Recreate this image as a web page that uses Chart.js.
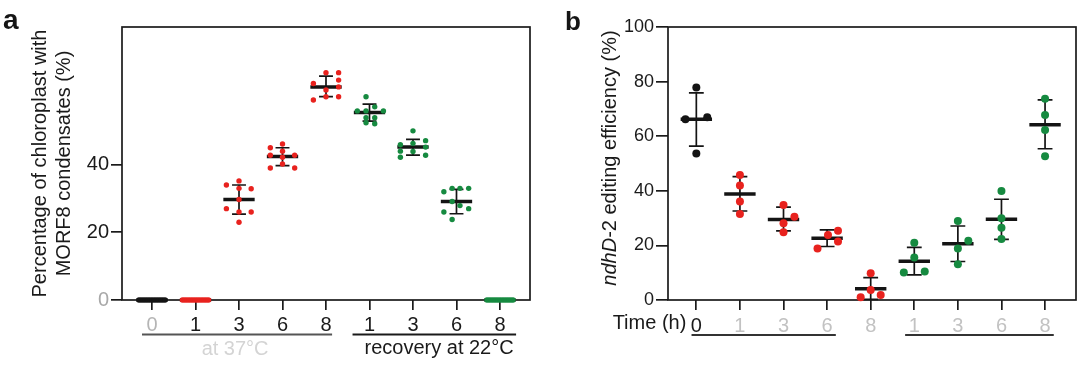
<!DOCTYPE html>
<html>
<head>
<meta charset="utf-8">
<script src="https://cdn.jsdelivr.net/npm/chart.js@4.4.1/dist/chart.umd.min.js"></script>
<style>
  body { margin: 0; background: #fff; width: 1080px; height: 371px; overflow: hidden; position: relative; }
  .panel { position: absolute; top: 0; width: 540px; height: 371px; }
  .tag { position: absolute; font-family: "Liberation Sans", Arial, sans-serif; font-weight: bold; color: #151515; }
</style>
</head>
<body>
<div class="panel" style="left:0"><canvas id="chartA" width="540" height="371"></canvas></div>
<div class="panel" style="left:540px"><canvas id="chartB" width="540" height="371"></canvas></div>
<div class="tag" style="left:3px;top:4px;font-size:28px">a</div>
<div class="tag" style="left:565px;top:6px;font-size:26px">b</div>
<script>
const FONT = '"Liberation Sans", Arial, sans-serif';
const RED = "#e8221e", GREEN = "#168a40", BLACK = "#141414";

// ---- panel a: chloroplasts with MORF8 condensates ----
const catsA = ["0", "1", "3", "6", "8", "1", "3", "6", "8"];
const groupsA = ["ctrl", "heat", "heat", "heat", "heat", "rec", "rec", "rec", "rec"];
const yTicksA = [0, 20, 40];
const meanA = [0, 0, 29.7, 42.4, 63.0, 55.4, 45.2, 29.1, 0];
const upperA = [0, 0, 34.0, 45.0, 66.2, 57.9, 47.5, 32.7, 0];
const lowerA = [0, 0, 25.4, 39.7, 60.1, 52.9, 42.8, 25.5, 0];
const zeros = [0, 0, 0, 0, 0, 0, 0, 0, 0, 0, 0, 0, 0];
const zeroSpread = [-0.3, -0.25, -0.2, -0.15, -0.1, -0.05, 0, 0.05, 0.1, 0.15, 0.2, 0.25, 0.3];
const pointsA = [
  zeros,
  zeros,
  [35.2, 34.0, 33.0, 32.9, 29.7, 27.0, 26.0, 26.0, 23.0],
  [46.1, 45.0, 44.0, 42.8, 42.8, 42.2, 40.2, 39.0, 39.0],
  [67.2, 67.2, 65.0, 64.0, 63.0, 62.1, 59.1, 60.1, 60.1],
  [60.1, 57.1, 55.9, 55.9, 55.9, 53.9, 52.4, 52.1, 53.9],
  [50.0, 47.1, 46.3, 45.9, 45.2, 43.9, 42.2, 42.8, 44.0],
  [33.0, 33.0, 33.0, 32.0, 27.9, 27.0, 26.0, 23.8, 29.1],
  zeros
];
const jitterA = [
  zeroSpread,
  zeroSpread,
  [0, -0.29, 0, 0.28, 0, -0.29, 0.28, 0, 0],
  [0, -0.28, 0, -0.28, 0.28, 0, 0, -0.28, 0.28],
  [0, 0.29, 0.29, -0.29, 0.29, 0, -0.29, 0, 0.29],
  [-0.08, 0.12, -0.28, 0.32, -0.08, 0.12, -0.08, 0.12, -0.08],
  [0, 0.29, 0, -0.29, 0.29, 0, -0.29, 0.29, -0.29],
  [-0.1, 0.08, 0.28, -0.29, 0.08, 0.28, -0.29, -0.1, -0.1],
  zeroSpread
];

// ---- panel b: ndhD-2 editing efficiency ----
const catsB = ["0", "1", "3", "6", "8", "1", "3", "6", "8"];
const groupsB = groupsA;
const yTicksB = [0, 20, 40, 60, 80, 100];
const meanB = [66.2, 38.8, 29.5, 22.6, 4.1, 14.2, 20.6, 29.6, 64.2];
const upperB = [75.9, 45.2, 34.0, 25.7, 8.2, 19.3, 27.1, 36.9, 73.3];
const lowerB = [56.4, 32.6, 25.3, 19.6, 0.2, 9.2, 14.1, 22.2, 55.4];
const pointsB = [
  [77.8, 66.2, 66.9, 53.7],
  [45.8, 41.9, 36.1, 31.5],
  [34.8, 30.5, 28.1, 24.8],
  [25.4, 23.8, 21.4, 18.9],
  [9.8, 3.7, 1.0, 1.8],
  [21.0, 15.6, 10.1, 10.4],
  [28.9, 21.7, 18.9, 13.1],
  [39.9, 29.9, 26.5, 22.3],
  [73.7, 67.8, 62.3, 52.7]
];
const jitterB = [
  [0, -0.25, 0.25, 0],
  [0, 0, 0, 0],
  [0, 0.25, 0, 0],
  [0.25, 0.02, 0.25, -0.22],
  [0, 0, -0.23, 0.23],
  [0, 0, -0.24, 0.24],
  [0, 0.24, 0, 0],
  [0, 0, 0, 0],
  [0, 0, 0, 0]
];

function colorOf(g) {
  return g === "ctrl" ? BLACK : g === "heat" ? RED : GREEN;
}

function buildDatasets(means, uppers, lowers, pts, jit, groups, r, halfMean, halfCap) {
  let ds = [];
  pts.forEach((vals, i) => {
    ds.push({
      type: "scatter",
      data: vals.map((v, k) => ({ x: i + jit[i][k], y: v })),
      backgroundColor: colorOf(groups[i]),
      borderWidth: 0,
      pointRadius: r,
      clip: false
    });
  });
  let meanLine = [], errLine = [], capLine = [];
  means.forEach((m, i) => {
    meanLine.push({ x: i - halfMean, y: m }, { x: i + halfMean, y: m }, { x: i, y: null });
    if (uppers[i] > lowers[i]) {
      errLine.push({ x: i, y: lowers[i] }, { x: i, y: uppers[i] }, { x: i, y: null });
      capLine.push({ x: i - halfCap, y: uppers[i] }, { x: i + halfCap, y: uppers[i] }, { x: i, y: null },
                   { x: i - halfCap, y: lowers[i] }, { x: i + halfCap, y: lowers[i] }, { x: i, y: null });
    }
  });
  let lineBase = { type: "line", pointRadius: 0, spanGaps: false, clip: false, borderCapStyle: "butt", borderColor: BLACK, tension: 0 };
  ds.push(Object.assign({}, lineBase, { data: meanLine, borderWidth: 3.5 }));
  ds.push(Object.assign({}, lineBase, { data: errLine, borderWidth: 1.7 }));
  ds.push(Object.assign({}, lineBase, { data: capLine, borderWidth: 1.7 }));
  return ds;
}

// frame, group lines and extra labels
const decor = {
  id: "decor",
  beforeDatasetsDraw(chart) {
    const { ctx, chartArea: a } = chart;
    ctx.save();
    ctx.strokeStyle = "#1a1a1a";
    ctx.lineWidth = 1.7;
    ctx.strokeRect(a.left, a.top, a.right - a.left, a.bottom - a.top);
    ctx.restore();
  },
  afterDraw(chart, args, o) {
    const { ctx, scales: { x } } = chart;
    ctx.save();
    (o.lines || []).forEach(l => {
      ctx.strokeStyle = l.color;
      ctx.lineWidth = 2;
      ctx.beginPath();
      ctx.moveTo(x.getPixelForValue(l.from), o.lineY);
      ctx.lineTo(x.getPixelForValue(l.to), o.lineY);
      ctx.stroke();
    });
    (o.texts || []).forEach(t => {
      ctx.fillStyle = t.color;
      ctx.font = t.font;
      ctx.textAlign = t.align;
      ctx.textBaseline = "middle";
      ctx.fillText(t.text, x.getPixelForValue(t.at) + (t.dx || 0), t.y);
    });
    if (o.yTitle) {
      const yt = o.yTitle;
      ctx.translate(yt.x, yt.y);
      ctx.rotate(-Math.PI / 2);
      ctx.fillStyle = "#1a1a1a";
      ctx.textBaseline = "middle";
      ctx.textAlign = "left";
      ctx.font = "italic 20px " + FONT;
      const w1 = ctx.measureText(yt.italic).width;
      ctx.font = "20px " + FONT;
      const w2 = ctx.measureText(yt.rest).width;
      let start = -(w1 + w2) / 2;
      ctx.font = "italic 20px " + FONT;
      ctx.fillText(yt.italic, start, 0);
      ctx.font = "20px " + FONT;
      ctx.fillText(yt.rest, start + w1, 0);
    }
    ctx.restore();
  }
};

const gridOpts = len => ({ drawOnChartArea: false, drawTicks: true, tickLength: len, color: "#1a1a1a", lineWidth: 1.7 });

new Chart(document.getElementById("chartA"), {
  type: "scatter",
  data: { datasets: buildDatasets(meanA, upperA, lowerA, pointsA, jitterA, groupsA, 2.7, 0.36, 0.16) },
  plugins: [decor],
  options: {
    responsive: false,
    animation: false,
    layout: { padding: { top: 27, right: 10, left: 0, bottom: 0 } },
    plugins: {
      legend: { display: false },
      tooltip: { enabled: false },
      decor: {
        lineY: 334.5,
        lines: [
          { from: -0.23, to: 4.14, color: "#555" },
          { from: 4.61, to: 8.37, color: "#1a1a1a" }
        ],
        texts: [
          { text: "recovery at 22°C", at: 6.6, y: 348, font: "20px " + FONT, color: "#1a1a1a", align: "center" },
          { text: "at 37°C", at: 1.91, y: 349, font: "20px " + FONT, color: "#d4d4d4", align: "center" }
        ]
      }
    },
    scales: {
      x: {
        type: "linear", min: -0.69, max: 8.69,
        afterBuildTicks: s => { s.ticks = catsA.map((c, i) => ({ value: i })); },
        afterFit: s => { s.height = 71; },
        border: { display: false },
        grid: gridOpts(10),
        ticks: {
          autoSkip: false, maxRotation: 0, padding: 3,
          font: { size: 20, family: FONT },
          color: c => (c.index === 0 ? "#b5b5b5" : "#1a1a1a"),
          callback: v => catsA[Math.round(v)]
        }
      },
      y: {
        min: 0, max: 80.7,
        afterBuildTicks: s => { s.ticks = yTicksA.map(v => ({ value: v })); },
        afterFit: s => { s.width = 122; },
        border: { display: false },
        grid: gridOpts(11),
        ticks: {
          padding: 2,
          font: { size: 20, family: FONT },
          color: c => (c.tick && c.tick.value === 0 ? "#a8a8a8" : "#1a1a1a")
        },
        title: {
          display: true,
          text: ["Percentage of chloroplast with", "MORF8 condensates (%)"],
          font: { size: 20, family: FONT, lineHeight: 1.2 },
          padding: { top: 28, bottom: 0 },
          color: "#1a1a1a"
        }
      }
    }
  }
});

new Chart(document.getElementById("chartB"), {
  type: "scatter",
  data: { datasets: buildDatasets(meanB, upperB, lowerB, pointsB, jitterB, groupsB, 4, 0.36, 0.17) },
  plugins: [decor],
  options: {
    responsive: false,
    animation: false,
    layout: { padding: { top: 27, right: 3, left: 0, bottom: 0 } },
    plugins: {
      legend: { display: false },
      tooltip: { enabled: false },
      decor: {
        lineY: 335,
        lines: [
          { from: -0.11, to: 3.2, color: "#333" },
          { from: 4.79, to: 8.2, color: "#333" }
        ],
        texts: [
          { text: "Time (h)", at: 0, dx: -10, y: 323, font: "20px " + FONT, color: "#1a1a1a", align: "right" }
        ],
        yTitle: { x: 70, y: 158, italic: "ndhD", rest: "-2 editing efficiency (%)" }
      }
    },
    scales: {
      x: {
        type: "linear", min: -0.65, max: 8.71,
        afterBuildTicks: s => { s.ticks = catsB.map((c, i) => ({ value: i })); },
        afterFit: s => { s.height = 71; },
        border: { display: false },
        grid: gridOpts(10),
        ticks: {
          autoSkip: false, maxRotation: 0, padding: 4,
          font: { size: 20, family: FONT },
          color: c => (c.index === 0 ? "#1a1a1a" : "#c2c2c2"),
          callback: v => catsB[Math.round(v)]
        }
      },
      y: {
        min: 0, max: 100,
        afterBuildTicks: s => { s.ticks = yTicksB.map(v => ({ value: v })); },
        afterFit: s => { s.width = 128; },
        border: { display: false },
        grid: gridOpts(12),
        ticks: {
          padding: 2,
          font: { size: 18, family: FONT },
          color: "#1a1a1a"
        }
      }
    }
  }
});
</script>
</body>
</html>
